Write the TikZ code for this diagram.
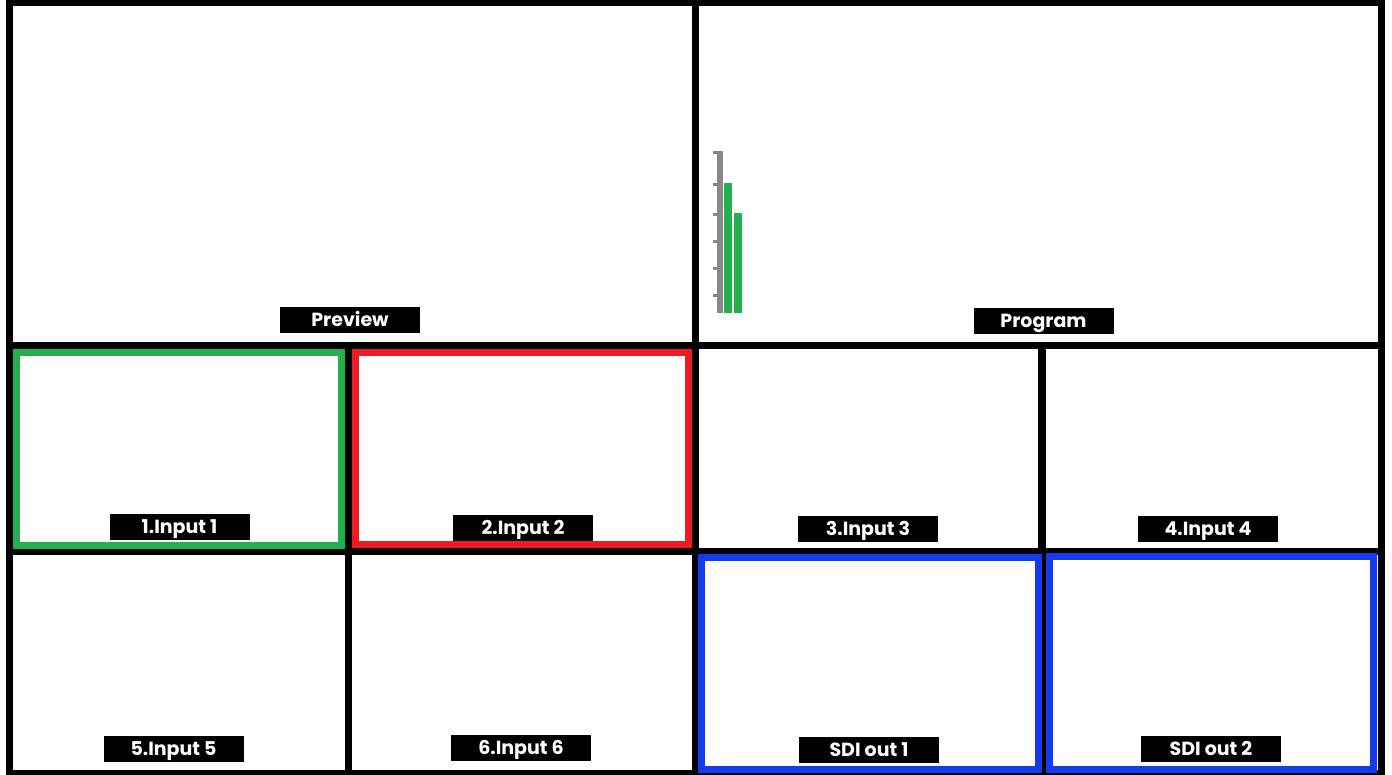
\documentclass[tikz,border=0pt]{standalone}
\usepackage{fontspec}
\setmainfont{Poppins}
\definecolor{mvgreen}{RGB}{34,177,76}
\definecolor{mvred}{RGB}{237,28,36}
\definecolor{mvblue}{RGB}{22,58,240}
\definecolor{mvgray}{RGB}{136,136,136}
\tikzset{
  cell/.style={fill=white},
  tally/.style={line width=7pt},
  lbl/.style={fill=black, text=white, minimum width=140pt, minimum height=26pt, inner sep=0pt,
    text height=15pt, text depth=2pt,
    font=\bfseries\fontsize{19}{19}\selectfont},
  meterpart/.style={fill=mvgray},
  levelbar/.style={fill=mvgreen}
}
\begin{document}
\begin{tikzpicture}[x=1pt,y=-1pt]
\useasboundingbox[fill=white] (0,0) rectangle (1392,775);
% black frame / grid
\fill[black] (6,0) rectangle (1385,775);
% cells
\fill[cell] (13,6) rectangle (692,342);
\fill[cell] (699,6) rectangle (1378,342);
\fill[cell] (13,349) rectangle (345,548);
\fill[cell] (352,349) rectangle (692,548);
\fill[cell] (699,349) rectangle (1038,548);
\fill[cell] (1046,349) rectangle (1378,548);
\fill[cell] (13,555) rectangle (345,770);
\fill[cell] (352,555) rectangle (692,770);
\fill[cell] (699,555) rectangle (1038,770);
\fill[cell] (1046,555) rectangle (1378,770);
% tally frames
\draw[tally, mvgreen] (16.5,352.5) rectangle (341.5,545.5);
\draw[tally, mvred] (355.5,352.5) rectangle (688.5,544.5);
\draw[tally, mvblue] (701.5,557.5) rectangle (1038.5,769.5);
\draw[tally, mvblue] (1049.5,556.5) rectangle (1373.5,769.5);
% audio meter
\fill[meterpart] (717,151) rectangle (722.7,313);
\fill[meterpart] (713,151) rectangle (722,154);
\foreach \t in {183,213,240,267,294}
  \fill[meterpart] (713,\t) rectangle (717,\t+3);
\fill[levelbar] (724,183) rectangle (731.7,313);
\fill[levelbar] (734,213) rectangle (742,313);
% labels
\node[lbl] (preview) at (350,320.5) {Preview};
\node[lbl] (program) at (1043.5,321) {Program};
\node[lbl] (in1) at (179.5,526.5) {1.Input 1};
\node[lbl] (in2) at (523,528) {2.Input 2};
\node[lbl] (in3) at (868,529) {3.Input 3};
\node[lbl] (in4) at (1208,529) {4.Input 4};
\node[lbl] (in5) at (173.5,748.5) {5.Input 5};
\node[lbl] (in6) at (521,748) {6.Input 6};
\node[lbl] (sdi1) at (869,750) {SDI out 1};
\node[lbl] (sdi2) at (1211,748.5) {SDI out 2};
\end{tikzpicture}
\end{document}
